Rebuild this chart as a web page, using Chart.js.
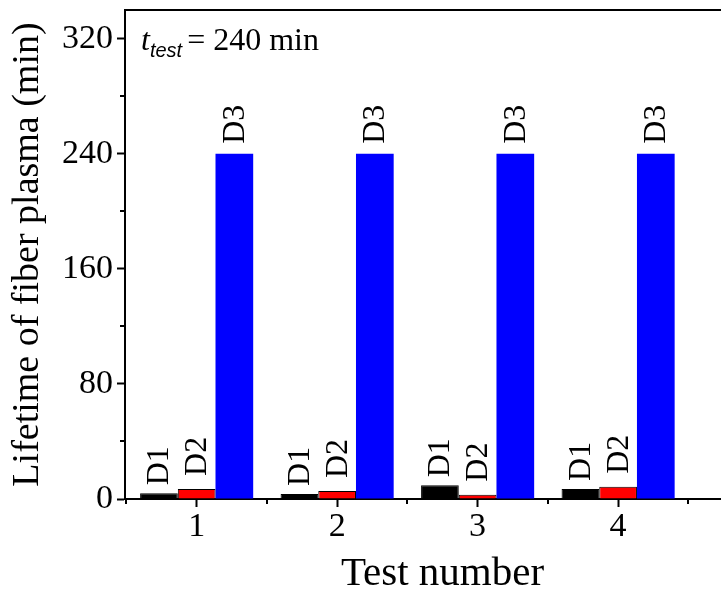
<!DOCTYPE html>
<html lang="en">
<head>
  <meta charset="UTF-8">
  <title>Lifetime of fiber plasma</title>
  <script src="https://cdn.jsdelivr.net/npm/chart.js"></script>
  <style>
    html, body { margin: 0; padding: 0; background: #fff; overflow: hidden; }
    .wrap { width: 721px; height: 592px; overflow: hidden; position: relative; }
    .box { width: 760px; height: 592px; }
  </style>
</head>
<body>
  <div class="wrap"><div class="box"><canvas id="c"></canvas></div></div>
  <script>
    // data
    const tests = [1, 2, 3, 4];
    const d1 = [4, 3.5, 9.5, 7];
    const d2 = [7, 5.5, 3, 8.5];
    const d3 = [240, 240, 240, 240];
    const seriesNames = ['D1', 'D2', 'D3'];
    const yTicks = [0, 80, 160, 240, 320];
    const yMinor = [40, 120, 200, 280];
    const xMinor = [0.5, 1.5, 2.5, 3.5, 4.5];

    const serif = "'Liberation Serif', 'Times New Roman', serif";
    const sans = "'Liberation Sans', Arial, sans-serif";
    const toPts = arr => tests.map((t, i) => ({ x: t, y: arr[i] }));
    const noPad = s => { s.paddingTop = 0; s.paddingBottom = 0; s.paddingLeft = 0; s.paddingRight = 0; };

    // minor ticks, top frame line, bar labels and the t_test note
    const extras = {
      id: 'extras',
      afterDraw(chart) {
        const ctx = chart.ctx, a = chart.chartArea;
        const xs = chart.scales.x, ys = chart.scales.y;
        ctx.save();
        ctx.strokeStyle = '#000';
        ctx.lineWidth = 2;
        ctx.beginPath();
        ctx.moveTo(a.left - 1, a.top);
        ctx.lineTo(a.right + 10, a.top);
        ctx.stroke();
        ctx.beginPath();
        yMinor.forEach(v => {
          const y = Math.round(ys.getPixelForValue(v));
          ctx.moveTo(a.left, y); ctx.lineTo(a.left - 5, y);
        });
        xMinor.forEach(v => {
          const x = Math.round(xs.getPixelForValue(v));
          ctx.moveTo(x, a.bottom); ctx.lineTo(x, a.bottom + 5);
        });
        ctx.stroke();

        // rotated series labels above each bar
        ctx.fillStyle = '#000';
        ctx.font = '32px ' + serif;
        ctx.textAlign = 'left';
        ctx.textBaseline = 'middle';
        const gaps = [8, 13, 10];
        chart.data.datasets.forEach((ds, di) => {
          chart.getDatasetMeta(di).data.forEach(bar => {
            ctx.save();
            ctx.translate(bar.x + 1, bar.y - gaps[di]);
            ctx.rotate(-Math.PI / 2);
            ctx.fillText(seriesNames[di], 0, 0);
            ctx.restore();
          });
        });

        // t_test = 240 min
        ctx.textBaseline = 'alphabetic';
        let x = a.left + 16;
        ctx.font = 'italic 32px ' + serif;
        ctx.fillText('t', x, 50);
        x += ctx.measureText('t').width;
        ctx.font = 'italic 20px ' + sans;
        ctx.fillText('test', x, 57);
        x += ctx.measureText('test').width + 5;
        ctx.font = '32px ' + serif;
        ctx.fillText('= 240 min', x, 50);
        ctx.restore();
      }
    };

    new Chart(document.getElementById('c'), {
      type: 'bar',
      data: {
        datasets: [
          { label: 'D1', data: toPts(d1), backgroundColor: '#000000', borderColor: '#000000', borderWidth: 1 },
          { label: 'D2', data: toPts(d2), backgroundColor: '#ff0000', borderColor: '#000000', borderWidth: 1 },
          { label: 'D3', data: toPts(d3), backgroundColor: '#0000ff', borderColor: '#0000ff', borderWidth: 0 }
        ]
      },
      options: {
        responsive: true,
        maintainAspectRatio: false,
        animation: false,
        layout: { padding: { top: 10, left: 0, right: 0, bottom: 0 } },
        categoryPercentage: 0.805,
        barPercentage: 1,
        plugins: { legend: { display: false }, tooltip: { enabled: false } },
        scales: {
          x: {
            type: 'linear',
            offset: false,
            min: 0.49,
            max: 5.01,
            afterBuildTicks: s => { s.ticks = tests.map(v => ({ value: v })); },
            afterFit: s => { s.height = 93; noPad(s); },
            grid: { drawOnChartArea: false, drawTicks: true, tickLength: 8, tickColor: '#000', tickWidth: 2, offset: false },
            border: { display: true, color: '#000', width: 2 },
            ticks: { color: '#000', font: { family: serif, size: 34 }, padding: 0, maxRotation: 0 },
            title: { display: true, text: 'Test number', color: '#000', font: { family: serif, size: 41, lineHeight: 0.86 }, padding: { top: 0, bottom: 0 } }
          },
          y: {
            min: 0,
            max: 340,
            afterBuildTicks: s => { s.ticks = yTicks.map(v => ({ value: v })); },
            afterFit: s => { s.width = 125; noPad(s); },
            grid: { drawOnChartArea: false, drawTicks: true, tickLength: 8, tickColor: '#000', tickWidth: 2 },
            border: { display: true, color: '#000', width: 2 },
            ticks: { color: '#000', font: { family: serif, size: 34 }, padding: 4 },
            title: { display: true, text: 'Lifetime of fiber plasma (min)', color: '#000', font: { family: serif, size: 38, lineHeight: 1.2 }, padding: { top: 5, bottom: 0 } }
          }
        }
      },
      plugins: [extras]
    });
  </script>
</body>
</html>
